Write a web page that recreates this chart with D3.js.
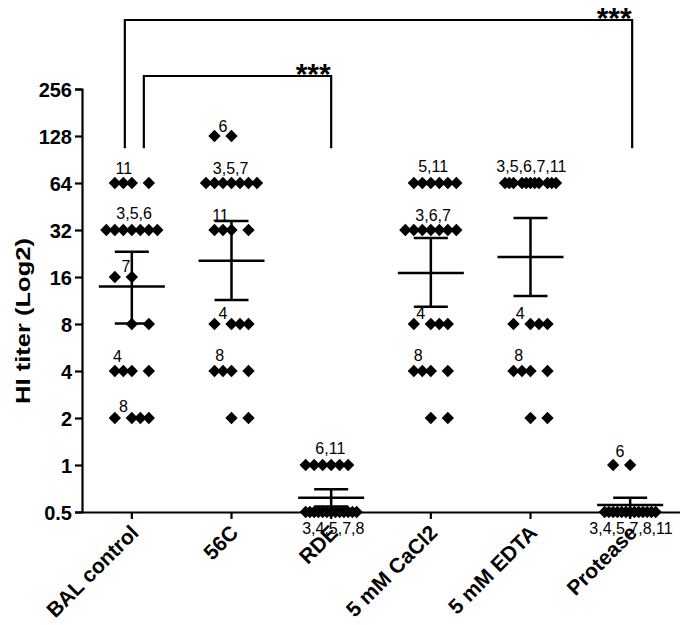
<!DOCTYPE html>
<html><head><meta charset="utf-8">
<script src="https://cdn.jsdelivr.net/npm/d3@7/dist/d3.min.js"></script>
<style>body{margin:0;background:#fff} svg{display:block}</style>
</head><body>
<svg id="chart" width="680" height="625"></svg>
<script>
// ---------- data ----------
const categories = ["BAL control", "56C", "RDE", "5 mM CaCl2", "5 mM EDTA", "Protease"];
const yTicks = [0.5, 1, 2, 4, 8, 16, 32, 64, 128, 256];
const yTickLabels = ["0.5", "1", "2", "4", "8", "16", "32", "64", "128", "256"];

// each point: [HI titer, column slot within the dot column]
const ptsBAL = [[64,-2],[64,-1],[64,0],[64,2],
  [32,-3],[32,-2],[32,-1],[32,0],[32,1],[32,2],[32,3],
  [16,-2],[16,0],[8,0],[8,2],
  [4,-2],[4,-1],[4,0],[4,2],[2,-2],[2,0],[2,1],[2,2]];
const pts56C = [[128,-2],[128,0],
  [64,-3],[64,-2],[64,-1],[64,0],[64,1],[64,2],[64,3],
  [32,-2],[32,-1],[32,0],[32,2],
  [8,-2],[8,0],[8,1],[8,2],[4,-2],[4,-1],[4,0],[4,2],[2,0],[2,2]];
const ptsRDE = [[1,-3],[1,-2],[1,-1],[1,0],[1,1],[1,2],
  [0.5,-3],[0.5,-2.5],[0.5,-2],[0.5,-1.5],[0.5,-1],[0.5,-0.5],[0.5,0],
  [0.5,0.5],[0.5,1],[0.5,1.5],[0.5,2],[0.5,2.5],[0.5,3]];
const ptsCaCl2 = [[64,-2],[64,-1],[64,0],[64,1],[64,2],[64,3],
  [32,-3],[32,-2],[32,-1],[32,0],[32,1],[32,2],[32,3],
  [8,-2],[8,0],[8,1],[8,2],[4,-2],[4,-1],[4,0],[4,2],[2,0],[2,2]];
const ptsEDTA = [[64,-3],[64,-2.5],[64,-2],[64,-1],[64,-0.5],[64,0],[64,0.5],[64,1],[64,2],[64,2.5],[64,3],
  [8,-2],[8,0],[8,1],[8,2],[4,-2],[4,-1],[4,0],[4,2],[2,0],[2,2]];
const ptsProtease = [[1,-2],[1,0],
  [0.5,-3],[0.5,-2.5],[0.5,-2],[0.5,-1.5],[0.5,-1],[0.5,-0.5],[0.5,0],
  [0.5,0.5],[0.5,1],[0.5,1.5],[0.5,2],[0.5,2.5],[0.5,3]];
const points = [ptsBAL, pts56C, ptsRDE, ptsCaCl2, ptsEDTA, ptsProtease];

// geometric mean and error range (log2 scale)
const means   = [13.9, 20.3, 0.617, 17.0, 21.5, 0.555];
const errLow  = [8.06, 11.4, 0.543, 10.3, 12.1, 0.5];
const errHigh = [23.2, 36.5, 0.70, 28.4, 38.2, 0.616];

// sample-number annotations: [titer, text, slot, lift]
const notesBAL = [[64,"11",-0.95,9],[32,"3,5,6",0.27,11],[16,"7",-0.7,4.6],[4,"4",-1.7,8.6],[2,"8",-1,5.6]];
const notes56C = [[128,"6",-1,3.6],[64,"3,5,7",-0.1,9],[32,"11",-1.3,9.3],[8,"4",-1,5],[4,"8",-1.4,10.3]];
const notesRDE = [[1,"6,11",-0.1,11.3],[0.5,"3,4,5,7,8",0.25,-22]];
const notesCaCl2 = [[64,"5,11",0.27,10.6],[32,"3,6,7",0.27,9.3],[8,"4",-1.2,5],[4,"8",-1.5,10.3]];
const notesEDTA = [[64,"3,5,6,7,11",0.1,10.6],[8,"4",-1.2,5],[4,"8",-1.4,10.3]];
const notesProtease = [[1,"6",-1.2,7.6],[0.5,"3,4,5,7,8,11",0.1,-22]];
const notes = [notesBAL, notes56C, notesRDE, notesCaCl2, notesEDTA, notesProtease];

// significance brackets
const brackets = [
  {from: "BAL control", to: "RDE", top: 310, bottom: 107, text: "***"},
  {from: "BAL control", to: "Protease", top: 708, bottom: 107, text: "***"}
];

// ---------- drawing ----------
const svg = d3.select("#chart");
const FONT = "'Liberation Sans', Arial, Helvetica, sans-serif";
const x = d3.scaleBand().domain(categories).range([82, 680]);
const cx = c => x(c) + x.bandwidth() / 2;
const y = d3.scaleLog().base(2).domain([0.5, 256]).range([512, 89]);
const slot = d3.scaleLinear().domain([0, 1]).range([0, 8.5]);

// y axis
const yAxis = d3.axisLeft(y).tickValues(yTicks)
  .tickFormat((d, i) => yTickLabels[i]).tickSize(7).tickPadding(3);
const gy = svg.append("g").attr("transform", "translate(82,0)").call(yAxis);
gy.select(".domain").attr("stroke", "#000").attr("stroke-width", 2.2);
gy.selectAll(".tick line").attr("stroke", "#000").attr("stroke-width", 2.2);
gy.selectAll(".tick text").attr("fill", "#000").style("font-family", FONT)
  .style("font-size", "20px").style("font-weight", "bold").attr("dy", "0.36em");

// x axis
const xAxis = d3.axisBottom(x).tickSize(7).tickSizeOuter(0).tickFormat("");
const gx = svg.append("g").attr("transform", "translate(0,512)").call(xAxis);
gx.select(".domain").attr("stroke", "#000").attr("stroke-width", 2.2);
gx.selectAll(".tick line").attr("stroke", "#000").attr("stroke-width", 2.2);

svg.append("g").selectAll("text").data(categories).join("text")
  .attr("transform", d => `translate(${cx(d) + 8},534) rotate(-45)`)
  .attr("text-anchor", "end")
  .style("font-family", FONT).style("font-size", "21px").style("font-weight", "bold")
  .text(d => d);

// y title
svg.append("text")
  .attr("transform", "translate(30,321) rotate(-90)")
  .attr("text-anchor", "middle")
  .attr("textLength", 166).attr("lengthAdjust", "spacingAndGlyphs")
  .style("font-family", FONT).style("font-size", "21px").style("font-weight", "bold")
  .text("HI titer (Log2)");

// error bars
const eb = svg.append("g").attr("stroke", "#000").attr("stroke-width", 2.5);
categories.forEach((c, i) => {
  const xc = cx(c);
  eb.append("line").attr("x1", xc).attr("x2", xc).attr("y1", y(errLow[i])).attr("y2", y(errHigh[i]));
  eb.append("line").attr("x1", xc - 17).attr("x2", xc + 17).attr("y1", y(errLow[i])).attr("y2", y(errLow[i]));
  eb.append("line").attr("x1", xc - 17).attr("x2", xc + 17).attr("y1", y(errHigh[i])).attr("y2", y(errHigh[i]));
  eb.append("line").attr("x1", xc - 33).attr("x2", xc + 33).attr("y1", y(means[i])).attr("y2", y(means[i]));
});

// points
const diamond = d3.symbol().type(d3.symbolSquare).size(76);
categories.forEach((c, i) => {
  svg.append("g").selectAll("path").data(points[i]).join("path")
    .attr("d", diamond)
    .attr("transform", d => `translate(${cx(c) + slot(d[1])},${y(d[0])}) rotate(45)`)
    .attr("fill", "#000");
});

// annotations
categories.forEach((c, i) => {
  svg.append("g").selectAll("text").data(notes[i]).join("text")
    .attr("x", d => cx(c) + slot(d[2]))
    .attr("y", d => y(d[0]) - d[3])
    .attr("text-anchor", "middle")
    .style("font-family", FONT).style("font-size", "16px")
    .text(d => d[1]);
});

// brackets
const bracketOffsets = {"BAL control-RDE": [12, 0], "BAL control-Protease": [-7, 2]};
brackets.forEach(b => {
  const off = bracketOffsets[b.from + "-" + b.to];
  const x1 = cx(b.from) + off[0], x2 = cx(b.to) + off[1];
  svg.append("path")
    .attr("d", `M${x1},${y(b.bottom)}V${y(b.top)}H${x2}V${y(b.bottom)}`)
    .attr("fill", "none").attr("stroke", "#000").attr("stroke-width", 2.2);
  svg.append("text")
    .attr("x", x2 - 18).attr("y", y(b.top) + 8)
    .attr("text-anchor", "middle")
    .style("font-family", FONT).style("font-size", "30px").style("font-weight", "bold")
    .text(b.text);
});
</script>
</body></html>
